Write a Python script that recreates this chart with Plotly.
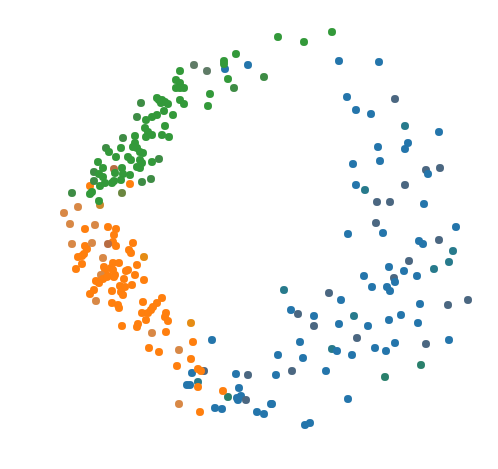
import plotly.graph_objects as go

# point positions (arbitrary units, y grows downward)
blue_x = [248, 225, 339, 379, 347, 395, 356, 371, 405, 439, 408, 405, 378, 380, 353, 426, 428, 440,
          356, 365, 405, 377, 390, 424, 376, 348, 383, 456, 419, 423, 439, 453, 409, 449, 389, 434,
          404, 364, 394, 417, 395, 387, 390, 372, 284, 329, 341, 420, 448, 468, 291, 298, 314, 314,
          339, 354, 368, 389, 401, 418, 357, 300, 375, 386, 395, 426, 449, 332, 337, 278, 303, 352,
          421, 276, 292, 326, 385, 348, 272, 305, 310, 212, 204, 192, 187, 190, 198, 236, 248, 239,
          237, 241, 238, 246, 215, 222, 257, 264, 271, 228]
blue_y = [65, 69, 61, 62, 97, 99, 110, 114, 126, 132, 143, 149, 147, 161, 164, 170, 174, 168,
          185, 190, 185, 202, 202, 204, 223, 234, 233, 227, 241, 244, 240, 251, 261, 262, 267, 269,
          271, 276, 278, 276, 282, 287, 291, 287, 290, 293, 300, 304, 305, 300, 310, 314, 316, 326,
          324, 316, 326, 320, 315, 323, 338, 342, 348, 351, 343, 344, 340, 349, 351, 355, 358, 355,
          365, 375, 371, 371, 377, 399, 404, 425, 423, 340, 371, 373, 385, 385, 382, 374, 375, 388,
          398, 396, 400, 400, 408, 409, 412, 414, 404, 397]
blue_tone = ["b", "b", "b", "b", "b", "bg", "b", "b", "t", "b", "b", "b", "b", "b", "b", "bg", "b", "bg",
             "b", "t", "bg", "bg", "bg", "b", "bg", "b", "b", "b", "b", "b", "bg", "t", "bg", "t", "b", "t",
             "b", "b", "bg", "b", "b", "b", "b", "b", "t", "bg", "b", "b", "bg", "bg", "b", "bg", "b", "bg",
             "b", "t", "b", "b", "b", "b", "bg", "b", "b", "b", "b", "bg", "b", "t", "b", "b", "b", "b",
             "tg", "b", "bg", "b", "tg", "b", "b", "b", "b", "b", "bg", "b", "b", "b", "t", "b", "bg", "b",
             "b", "b", "b", "bg", "b", "b", "b", "b", "b", "tg"]

orange_x = [64, 78, 100, 70, 85, 95, 108, 116, 114, 113, 116, 108, 72, 85, 87, 84, 82, 78, 92, 133,
            129, 131, 144, 82, 76, 103, 113, 119, 104, 111, 105, 113, 115, 108, 101, 103, 107, 128, 126,
            114, 137, 135, 124, 144, 96, 99, 94, 90, 112, 120, 125, 132, 121, 123, 96, 112, 118, 119,
            143, 157, 162, 142, 148, 151, 153, 166, 165, 168, 146, 122, 138, 137, 152, 166, 191, 149,
            159, 179, 193, 191, 177, 198, 201, 198, 223, 179, 200, 90, 130, 114]
orange_y = [213, 207, 205, 224, 229, 225, 227, 229, 235, 242, 246, 244, 244, 246, 249, 254, 256, 257, 243, 243,
            250, 253, 257, 264, 269, 258, 263, 263, 267, 268, 272, 270, 275, 276, 275, 279, 277, 270, 271,
            277, 265, 275, 279, 280, 281, 283, 290, 294, 291, 286, 287, 285, 292, 295, 301, 303, 305, 308,
            302, 303, 298, 313, 313, 310, 307, 313, 317, 321, 320, 326, 324, 327, 333, 332, 323, 348,
            352, 350, 342, 359, 366, 369, 371, 387, 391, 404, 412, 186, 184, 169]
orange_tone = ["tan", "tan", "og", "tan", "o", "tan", "o", "o", "o", "o", "o", "br", "tan", "o", "o", "o", "o", "o", "tan", "o",
               "o", "o", "oy", "o", "o", "tan", "o", "o", "o", "o", "o", "o", "o", "o", "tan", "o", "o", "o", "o",
               "o", "o", "o", "o", "o", "o", "o", "o", "o", "o", "o", "o", "o", "o", "o", "tan", "o", "o", "o",
               "o", "o", "o", "o", "o", "o", "o", "o", "o", "o", "o", "o", "o", "o", "tan", "o", "oy", "o",
               "o", "tan", "o", "o", "o", "o", "o", "o", "o", "tan", "o", "o", "o", "br"]

green_x = [278, 304, 332, 236, 194, 207, 224, 224, 264, 228, 234, 180, 176, 180, 176, 180, 184, 210, 208, 141,
           157, 162, 165, 168, 180, 184, 164, 173, 157, 152, 146, 137, 165, 145, 148, 146, 152, 162, 169, 123,
           135, 135, 137, 133, 140, 143, 121, 106, 109, 116, 128, 131, 140, 137, 140, 152, 159, 98, 103, 94,
           99, 103, 115, 122, 123, 130, 114, 121, 105, 100, 112, 94, 142, 151, 92, 90, 72, 122, 99, 161,
           159, 142]
green_y = [37, 42, 32, 54, 65, 71, 61, 64, 77, 79, 88, 71, 80, 83, 88, 88, 88, 94, 106, 103,
           98, 100, 102, 104, 100, 104, 111, 115, 115, 117, 120, 117, 126, 128, 132, 137, 135, 135, 137, 138,
           136, 143, 148, 147, 152, 153, 148, 148, 152, 157, 157, 160, 160, 167, 168, 162, 159, 162, 168, 172,
           174, 177, 173, 168, 174, 175, 181, 180, 183, 186, 183, 181, 182, 179, 192, 194, 193, 193, 201, 103,
           100, 163]
green_tone = ["g", "g", "g", "g", "gg", "gg", "g", "g", "gd", "g", "gd", "g", "g", "g", "g", "g", "g", "g", "g", "gd",
              "g", "g", "g", "g", "g", "g", "g", "g", "g", "g", "g", "gd", "g", "g", "g", "g", "g", "g", "g", "gd",
              "g", "g", "g", "g", "g", "g", "g", "gd", "g", "g", "g", "g", "g", "g", "g", "g", "gd", "g", "g", "gd",
              "g", "g", "g", "g", "g", "g", "g", "g", "g", "g", "g", "gd", "gd", "gd", "g", "g", "gd", "gb", "g", "g",
              "g", "g"]

TONES = {
    "b": "#2475ab", "bg": "#4b6781", "t": "#277a8c", "tg": "#2a806c",
    "o": "#ff7f0e", "tan": "#d88846", "oy": "#e58c14", "br": "#b86c42", "og": "#c98a2c",
    "g": "#33993a", "gd": "#3e8c45", "gg": "#5f7b66", "gb": "#6b8640",
}

fig = go.Figure()
for xs, ys, tones in [(blue_x, blue_y, blue_tone),
                      (orange_x, orange_y, orange_tone),
                      (green_x, green_y, green_tone)]:
    fig.add_trace(go.Scatter(
        x=xs, y=ys, mode="markers",
        marker=dict(size=8, color=[TONES[t] for t in tones], line=dict(width=0)),
        hoverinfo="skip", showlegend=False,
    ))

# the page body has an 8px margin, so the plot area starts at 8,8
fig.update_layout(
    width=490, height=461,
    margin=dict(l=0, r=0, t=0, b=0),
    plot_bgcolor="white", paper_bgcolor="white",
    xaxis=dict(range=[8, 498], visible=False),
    yaxis=dict(range=[469, 8], visible=False),
)

fig.write_html("out.html")
